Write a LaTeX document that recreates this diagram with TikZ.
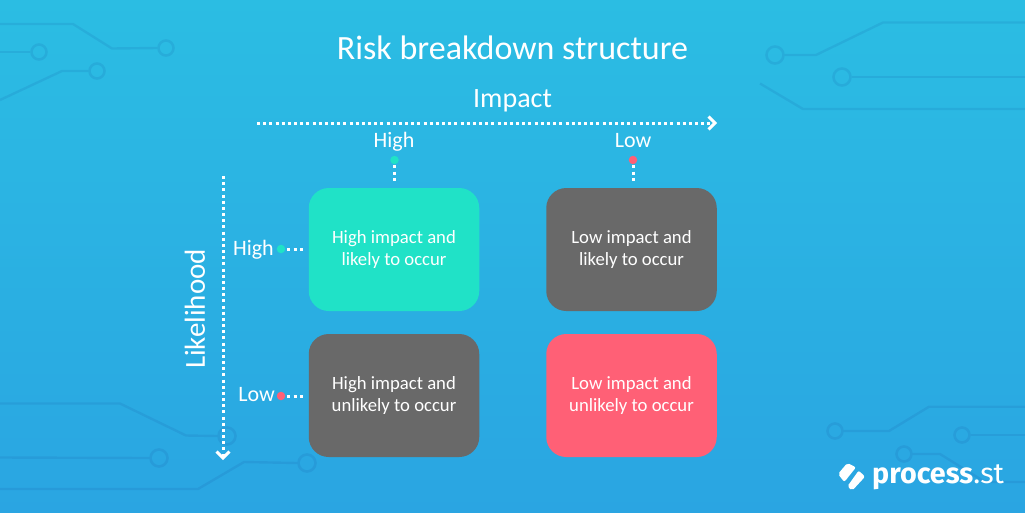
\documentclass[tikz,border=0pt]{standalone}
\usepackage{fontspec}
\setmainfont{Carlito}
\newfontfamily\logofont{Fira Sans}
\usetikzlibrary{arrows.meta,calc}
\definecolor{bgtop}{HTML}{2BBDE3}
\definecolor{bgbot}{HTML}{2AA5E2}
\definecolor{teal}{HTML}{20E2C7}
\definecolor{rosered}{HTML}{FF6076}
\definecolor{slate}{HTML}{696969}
\tikzset{
  x=1pt,y=-1pt,
  trace/.style={draw=black!60!blue,draw opacity=.07,line width=2.4pt,line join=round},
  pad/.style={circle,draw=black!60!blue,draw opacity=.07,line width=2.6pt,minimum size=15pt,inner sep=0pt},
  cell/.style={rectangle,rounded corners=20pt,minimum width=170.5pt,minimum height=123pt,inner sep=0pt,text=white,align=center,font=\fontsize{18.7}{21.5}\selectfont},
  dots/.style={draw=white,line width=3pt,dash pattern=on 3pt off 3.17pt},
  chev/.style={draw=white,line width=3pt,fill=none},
  lab/.style={text=white,inner sep=0pt,font=\fontsize{22}{25}\selectfont},
  dotmark/.style={circle,minimum size=8.5pt,inner sep=0pt},
}
\begin{document}
\begin{tikzpicture}
\useasboundingbox (0,0) rectangle (1025,512);
\shade[top color=bgtop,bottom color=bgbot] (0,0) rectangle (1025,512);
% circuit traces
\node[pad] (p1) at (166,48) {};
\node[pad] (p2) at (39,52) {};
\node[pad] (p3) at (97,71) {};
\node[pad,minimum size=17pt] (p4) at (775,55) {};
\node[pad,minimum size=17pt] (p5) at (842,77) {};
\node[pad,minimum size=17pt] (p6) at (227,436) {};
\node[pad,minimum size=17pt] (p7) at (159,458) {};
\node[pad,minimum size=17pt] (p8) at (307,463) {};
\node[pad] (p9) at (835,431) {};
\node[pad] (p10) at (962,435) {};
\node[pad] (p11) at (904,454) {};
\draw[trace] (0,24) -- (73,24) -- (112,48.5) -- (p1.west);
\draw[trace] (0,52) -- (p2.west);
\draw[trace] (0,100) -- (62,71) -- (p3.west);
\draw[trace] (p4.east) -- (816,55) -- (883,22.5) -- (1025,22.5);
\draw[trace] (p5.east) -- (1025,77);
\draw[trace] (760,83.5) -- (803,109) -- (1025,109);
\draw[trace] (0,403.5) -- (120,403.5) -- (186,435.5) -- (p6.west);
\draw[trace] (0,457.5) -- (p7.west);
\draw[trace] (0,489) -- (198,489) -- (244,462) -- (p8.west);
\draw[trace] (p9.east) -- (889,431) -- (929,406.7) -- (1025,406.7);
\draw[trace] (p10.east) -- (1025,435);
\draw[trace] (p11.east) -- (940,454) -- (985,482) -- (1025,482);
% title and axes
\node[text=white,inner sep=0pt,font=\fontsize{34}{40}\selectfont] (title) at (512.5,48) {Risk breakdown structure};
\node[lab,font=\fontsize{28}{32}\selectfont] (impact) at (512.5,101) {Impact};
\node[lab,font=\fontsize{29}{32}\selectfont,rotate=90] (likelihood) at (195,309) {Likelihood};
\coordinate (ha) at (257,123);
\coordinate (hb) at (713,123);
\coordinate (va) at (223,176);
\coordinate (vb) at (223,456);
\draw[dots] (ha) -- (hb);
\draw[dots] (va) -- (vb);
\draw[chev] (708.5,116.5) -- (715,123) -- (708.5,129.5);
\draw[chev] (216.5,451.5) -- (223,458) -- (229.5,451.5);
% cells
\node[cell,fill=teal] (hh) at (394,249.5) {\raisebox{1pt}{High impact and}\\\raisebox{1pt}{likely to occur}};
\node[cell,fill=slate] (lh) at (631.5,249.5) {\raisebox{1pt}{Low impact and}\\\raisebox{1pt}{likely to occur}};
\node[cell,fill=slate] (hl) at (394,395.5) {High impact and\\unlikely to occur};
\node[cell,fill=rosered] (ll) at (631.5,395.5) {Low impact and\\unlikely to occur};
% column heads
\node[lab] (chigh) at (394,142) {High};
\node[lab] (clow) at (633,141) {Low};
\node[dotmark,fill=teal] (cd1) at (394.5,160) {};
\node[dotmark,fill=rosered] (cd2) at (633,160) {};
\draw[dots] ($(cd1.south)+(0,1)$) -- ($(hh.north)+(0.5,-4)$);
\draw[dots] ($(cd2.south)+(0,1)$) -- ($(lh.north)+(1.5,-4)$);
% row heads
\node[lab,anchor=east] (rhigh) at (274,250) {High};
\node[lab,anchor=east] (rlow) at (275,395) {Low};
\node[dotmark,fill=teal] (rd1) at (281,249) {};
\node[dotmark,fill=rosered] (rd2) at (281,396) {};
\draw[dots] ($(rd1.east)+(2,0)$) -- ($(hh.west)+(-5,-0.5)$);
\draw[dots] ($(rd2.east)+(2,0)$) -- ($(hl.west)+(-5,0.5)$);
% logo
\fill[white,rounded corners=2pt] (838,474) -- (847.3,463) -- (856,467.3) -- (844.3,482) -- cycle;
\fill[white,rounded corners=2pt] (847.3,486.5) -- (858.7,470.5) -- (865,476.7) -- (852.3,490.5) -- cycle;
\node[text=white,anchor=base west,inner sep=0pt] (logo) at (872,483) {\logofont\fontsize{28.7}{34}\selectfont\bfseries process\mdseries.st};
\end{tikzpicture}
\end{document}
